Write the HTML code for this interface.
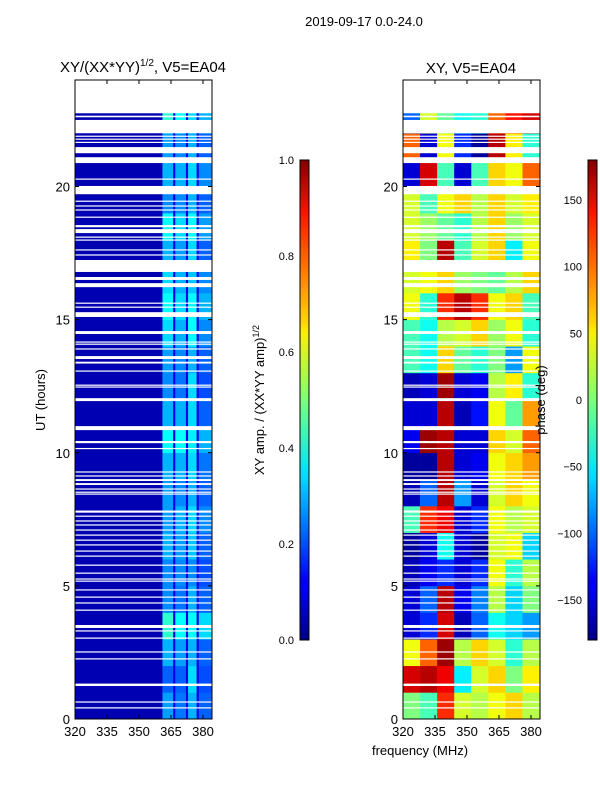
<!DOCTYPE html>
<html><head><meta charset="utf-8">
<style>
body{margin:0;background:#fff;}
svg text{font-family:"Liberation Sans",sans-serif;fill:#000;}
</style></head>
<body>
<svg id="fig" width="600" height="800" viewBox="0 0 600 800" xmlns="http://www.w3.org/2000/svg">
<defs>
<linearGradient id="jet" x1="0" y1="1" x2="0" y2="0">
<stop offset="0" stop-color="#00007f"/><stop offset="0.11" stop-color="#0000ff"/><stop offset="0.125" stop-color="#0000ff"/>
<stop offset="0.34" stop-color="#00dcff"/><stop offset="0.36" stop-color="#02e8f4"/><stop offset="0.5" stop-color="#7dff7a"/>
<stop offset="0.64" stop-color="#fbf000"/><stop offset="0.66" stop-color="#ffd800"/><stop offset="0.89" stop-color="#ff1200"/><stop offset="1" stop-color="#7f0000"/>
</linearGradient>
</defs>
<text x="364" y="26" font-size="13" text-anchor="middle">2019-09-17 0.0-24.0</text>
<text x="143" y="72" font-size="15" text-anchor="middle">XY/(XX*YY)<tspan font-size="10" dy="-6">1/2</tspan><tspan dy="6">, V5=EA04</tspan></text>
<text x="471" y="73" font-size="15" text-anchor="middle">XY, V5=EA04</text>
<g id="ampPlot"></g>
<g id="phPlot"></g>
<g id="axes"></g>
<text transform="translate(45,400) rotate(-90)" font-size="13" text-anchor="middle">UT (hours)</text>
<text x="420" y="755" font-size="13" text-anchor="middle">frequency (MHz)</text>
<rect x="300" y="160" width="9" height="480" fill="url(#jet)" stroke="#000" stroke-width="1"/>
<rect x="588" y="160" width="9" height="480" fill="url(#jet)" stroke="#000" stroke-width="1"/>
<text transform="translate(264,400) rotate(-90)" font-size="13" text-anchor="middle">XY amp. / (XX*YY amp)<tspan font-size="9" dy="-5">1/2</tspan></text>
<text transform="translate(545,400) rotate(-90)" font-size="13" text-anchor="middle">phase (deg)</text>
</svg>
<script>
// ---- data ----
const gaps = [[22.6,22.66],[22.0,22.5],[21.87,21.91],[21.76,21.8],[21.64,21.68],[21.25,21.48],[20.88,21.1],[20.26,20.3],[19.71,20.02],[19.43,19.47],[19.25,19.29],[19.1,19.14],[18.83,18.87],[18.47,18.55],[18.25,18.4],[18.08,18.12],[17.97,18.01],[17.6,17.64],[17.41,17.45],[16.79,17.24],[16.49,16.6],[16.22,16.37],[15.6,15.64],[15.45,15.49],[15.1,15.28],[14.46,14.57],[14.14,14.18],[14.06,14.1],[13.88,13.92],[13.52,13.63],[13.35,13.42],[13.05,13.09],[12.52,12.56],[12.45,12.49],[11.94,12.05],[10.85,11.0],[10.36,10.44],[10.14,10.18],[9.26,9.3],[9.11,9.15],[8.94,9.01],[8.79,8.86],[8.62,8.66],[8.5,8.54],[8.43,8.47],[7.75,7.83],[7.6,7.64],[7.42,7.46],[7.27,7.31],[7.08,7.12],[6.89,6.93],[6.7,6.74],[6.52,6.56],[6.29,6.33],[6.1,6.14],[5.77,5.8],[5.46,5.5],[5.24,5.28],[5.16,5.2],[4.83,4.87],[4.56,4.6],[4.34,4.38],[4.07,4.11],[3.42,3.53],[3.29,3.33],[3.02,3.06],[2.5,2.54],[2.24,2.28],[1.24,1.33],[0.62,0.66],[0.4,0.44]];
const dataEnd = 22.75;
const bandEdges = [320,361,366,367,372,373,377,378,384];
const bandLevelA = [0.28,0.22,0.3,0.42,0.26,0.26,0.3,0.28,0.28,0.3,0.38,0.3,0.26,0.28,0.34,0.38,0.34,0.3,0.38,0.26,0.3,0.28,0.42];
const bandLevelB = [0.24,0.22,0.28,0.38,0.24,0.26,0.28,0.3,0.26,0.3,0.38,0.3,0.24,0.26,0.3,0.34,0.3,0.28,0.34,0.26,0.3,0.26,0.38];
const bandLevelC = [0.3,0.34,0.3,0.38,0.3,0.26,0.32,0.34,0.3,0.34,0.36,0.34,0.34,0.3,0.38,0.38,0.32,0.34,0.38,0.3,0.34,0.3,0.34];
const bandLevelD = [0.22,0.2,0.22,0.34,0.22,0.2,0.22,0.26,0.22,0.24,0.3,0.22,0.2,0.22,0.26,0.3,0.26,0.22,0.28,0.22,0.26,0.22,0.3];
const baseLevel = 0.05, gapLevel = 0.1;
const phaseEdges = [320,328,336,344,352,360,368,376,384];
const phase = [
[0,-20,120,30,20,40,60,20],[150,160,140,-50,30,60,0,50],[40,100,170,20,60,30,-30,20],
[-150,-120,150,-160,-100,-40,-60,-80],[-150,-100,160,-140,-90,20,-60,0],[-160,-140,-120,-150,-120,40,-30,20],
[-170,-150,-40,-150,-170,30,40,-60],[-20,120,140,-150,-120,40,20,30],[-160,-100,160,-80,-150,30,60,40],
[-170,-170,160,-150,-140,40,60,80],[-140,170,160,-150,-150,60,30,100],[-150,-150,160,-160,-130,40,-10,80],
[-160,-150,170,-150,-140,20,50,-30],[-20,-40,60,-10,-30,0,-80,40],[-20,-40,20,30,60,10,40,-30],
[40,-30,120,160,120,40,60,-20],[30,40,60,10,0,-10,20,60],[50,0,160,-20,30,60,-50,40],
[30,10,-10,-30,20,60,10,30],[30,-20,40,60,20,60,30,50],[-150,150,-20,-150,-20,60,40,100],
[100,-150,40,-120,-170,160,50,-30],[-100,30,-10,-40,-30,100,130,150]];
const timeTicks = [0,5,10,15,20];
const freqTicks = [320,335,350,365,380];
const ampTicks = [0.0,0.2,0.4,0.6,0.8,1.0];
const phaseTicks = [-150,-100,-50,0,50,100,150];

// ---- scales ----
const Y0=719, PXH=(719-80)/24;
const yT = t => Y0 - t*PXH;
const xL = f => 75 + (f-320)*(128/60);
const xR = f => 403 + (f-320)*(128/60);
const yAmp = v => 640 - v*480;
const yPh = v => 640 - (v+180)/360*480;
function jet(v){v=Math.max(0,Math.min(1,v));
 const c=x=>Math.round(255*Math.max(0,Math.min(1,1.5-Math.abs(4*v-x))));
 return `rgb(${c(3)},${c(2)},${c(1)})`;}
const NS='http://www.w3.org/2000/svg';
function el(tag,attrs,parent){const e=document.createElementNS(NS,tag);for(const k in attrs)e.setAttribute(k,attrs[k]);parent.appendChild(e);return e;}

const amp=document.getElementById('ampPlot'), ph=document.getElementById('phPlot');
for(let h=0;h<23;h++){
  const t0=h, t1=Math.min(h+1,dataEnd);
  const lv=[baseLevel,bandLevelA[h],gapLevel,bandLevelB[h],gapLevel,bandLevelC[h],gapLevel,bandLevelD[h]];
  for(let i=0;i<8;i++){
    const r=el('rect',{x:xL(bandEdges[i]),y:yT(t1),width:xL(bandEdges[i+1])-xL(bandEdges[i])+0.3,height:yT(t0)-yT(t1)+0.3,fill:jet(lv[i])},amp);
    
    
  }
  for(let i=0;i<8;i++){
    const r=el('rect',{x:xR(phaseEdges[i]),y:yT(t1),width:xR(phaseEdges[i+1])-xR(phaseEdges[i])+0.3,height:yT(t0)-yT(t1)+0.3,fill:jet((phase[h][i]+180)/360)},ph);
    
    
  }
}
for(const [a,b] of gaps){
  for(const xf of [xL,xR]){
    const r=el('rect',{x:xf(320),y:yT(b),width:137,height:Math.max(1.2,yT(a)-yT(b)),fill:'#fff'},xf===xL?amp:ph);
    
    
  }
}
const ax=document.getElementById('axes');
for(const x0 of [75,403]){
  const f=el('rect',{x:x0,y:80,width:137,height:639,fill:'none',stroke:'#000','stroke-width':1},ax);
  
  
  const xf = x0===75?xL:xR;
  for(const t of timeTicks){
    el('line',{x1:x0,x2:x0+4,y1:yT(t),y2:yT(t),stroke:'#000'},ax);
    el('line',{x1:x0+133,x2:x0+137,y1:yT(t),y2:yT(t),stroke:'#000'},ax);
    const tx=el('text',{x:x0-5,y:yT(t)+5,'font-size':13,'text-anchor':'end'},ax);
    tx.textContent=t;
    
    
  }
  for(const fq of freqTicks){
    el('line',{x1:xf(fq),x2:xf(fq),y1:719,y2:715,stroke:'#000'},ax);
    el('line',{x1:xf(fq),x2:xf(fq),y1:80,y2:84,stroke:'#000'},ax);
    const tx=el('text',{x:xf(fq),y:736,'font-size':13,'text-anchor':'middle'},ax);
    tx.textContent=fq;
    
    
  }
}
for(const v of ampTicks){
  el('line',{x1:300,x2:309,y1:yAmp(v),y2:yAmp(v),stroke:'#000'},ax);
  const tx=el('text',{x:294,y:yAmp(v)+4,'font-size':11,'text-anchor':'end'},ax);
  tx.textContent=v.toFixed(1);
  
  
}
for(const v of phaseTicks){
  el('line',{x1:588,x2:597,y1:yPh(v),y2:yPh(v),stroke:'#000'},ax);
  const tx=el('text',{x:582,y:yPh(v)+4,'font-size':11,'text-anchor':'end'},ax);
  tx.textContent=v<0?'\u2212'+(-v):String(v);
  
  
}
</script>
</body></html>
